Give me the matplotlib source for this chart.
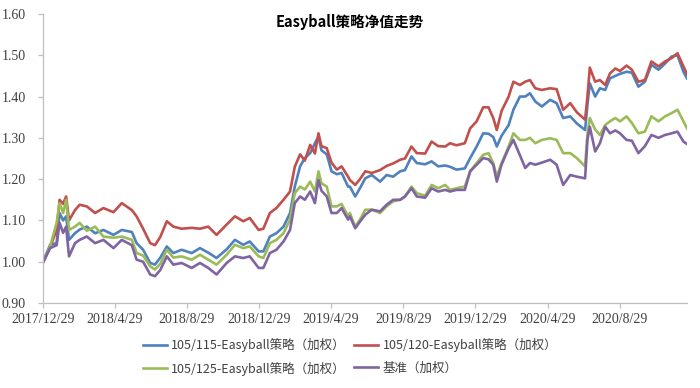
"""Easyball strategy NAV chart, redrawn from the reference picture
"""

#%% Imports
import matplotlib
matplotlib.use('Agg')
import matplotlib.pyplot as plt
import pandas as pd

#%% Data

dates = pd.to_datetime([
    '2017-12-29', '2018-01-10', '2018-01-21', '2018-01-26', '2018-02-01', '2018-02-06', '2018-02-11',
    '2018-02-21', '2018-03-01', '2018-03-13', '2018-03-27', '2018-04-10', '2018-04-27', '2018-05-11',
    '2018-05-28', '2018-06-05', '2018-06-16', '2018-06-28', '2018-07-06', '2018-07-15', '2018-07-26',
    '2018-08-06', '2018-08-20', '2018-09-06', '2018-09-20', '2018-10-04', '2018-10-18', '2018-11-04',
    '2018-11-18', '2018-12-02', '2018-12-13', '2018-12-28', '2019-01-05', '2019-01-16', '2019-01-27',
    '2019-02-08', '2019-02-19', '2019-02-27', '2019-03-08', '2019-03-16', '2019-03-25', '2019-04-02',
    '2019-04-08', '2019-04-13', '2019-04-22', '2019-04-30', '2019-05-09', '2019-05-17', '2019-05-28',
    '2019-05-31', '2019-06-09', '2019-06-17', '2019-06-26', '2019-07-07', '2019-07-21', '2019-08-01',
    '2019-08-12', '2019-08-24', '2019-09-01', '2019-09-12', '2019-09-21', '2019-10-05', '2019-10-16',
    '2019-10-27', '2019-11-08', '2019-11-16', '2019-11-27', '2019-12-11', '2019-12-20', '2019-12-31',
    '2020-01-11', '2020-01-20', '2020-01-28', '2020-02-03', '2020-02-11', '2020-02-23', '2020-03-02',
    '2020-03-13', '2020-03-22', '2020-03-30', '2020-04-08', '2020-04-19', '2020-05-03', '2020-05-14',
    '2020-05-25', '2020-06-06', '2020-06-17', '2020-07-01', '2020-07-05', '2020-07-09', '2020-07-18',
    '2020-07-26', '2020-08-04', '2020-08-12', '2020-08-21', '2020-08-29', '2020-09-09', '2020-09-18',
    '2020-09-29', '2020-10-10', '2020-10-21', '2020-11-02', '2020-11-13', '2020-11-24', '2020-12-04',
    '2020-12-14', '2020-12-20'])

nav_115 = [
    1.000, 1.041, 1.045, 1.118, 1.100, 1.110, 1.053, 1.069, 1.078, 1.085, 1.069, 1.077, 1.065, 1.077,
    1.072, 1.045, 1.029, 0.997, 0.993, 1.010, 1.037, 1.021, 1.029, 1.021, 1.033, 1.022, 1.009, 1.030,
    1.053, 1.041, 1.049, 1.025, 1.025, 1.061, 1.069, 1.085, 1.118, 1.182, 1.231, 1.251, 1.263, 1.287,
    1.303, 1.270, 1.260, 1.219, 1.212, 1.215, 1.182,
    1.182, 1.158, 1.178, 1.202, 1.210, 1.194, 1.210, 1.206, 1.219, 1.222, 1.255, 1.239, 1.236, 1.243,
    1.231, 1.233, 1.230, 1.223, 1.226, 1.251, 1.279, 1.311, 1.310, 1.302, 1.279, 1.305, 1.331, 1.368,
    1.400, 1.400, 1.408, 1.388, 1.376, 1.392, 1.384, 1.348, 1.352, 1.335, 1.319, 1.380, 1.432, 1.400,
    1.420, 1.416, 1.444, 1.450, 1.455, 1.460, 1.458, 1.424, 1.436, 1.477, 1.465, 1.480, 1.497, 1.500,
    1.460, 1.444]

nav_120 = [
    1.000, 1.035, 1.077, 1.150, 1.140, 1.158, 1.100, 1.125, 1.138, 1.134, 1.118, 1.130, 1.120, 1.142,
    1.125, 1.110, 1.080, 1.045, 1.040, 1.060, 1.098, 1.085, 1.080, 1.082, 1.080, 1.085, 1.065, 1.090,
    1.110, 1.098, 1.106, 1.077, 1.080, 1.118, 1.130, 1.150, 1.170, 1.230, 1.260, 1.245, 1.283, 1.262,
    1.311, 1.280, 1.275, 1.240, 1.223, 1.231, 1.206,
    1.198, 1.186, 1.200, 1.219, 1.215, 1.222, 1.232, 1.238, 1.247, 1.250, 1.279, 1.263, 1.262, 1.291,
    1.280, 1.279, 1.287, 1.282, 1.287, 1.323, 1.340, 1.374, 1.374, 1.348, 1.319, 1.365, 1.400, 1.436,
    1.428, 1.436, 1.440, 1.420, 1.416, 1.420, 1.418, 1.368, 1.384, 1.362, 1.344, 1.400, 1.470, 1.436,
    1.440, 1.428, 1.456, 1.468, 1.462, 1.475, 1.465, 1.436, 1.440, 1.485, 1.473, 1.485, 1.493, 1.505,
    1.473, 1.455]

nav_125 = [
    1.000, 1.037, 1.094, 1.142, 1.118, 1.150, 1.077, 1.085, 1.094, 1.075, 1.085, 1.061, 1.058, 1.061,
    1.053, 1.021, 1.015, 0.989, 0.981, 0.995, 1.029, 1.010, 1.013, 1.005, 1.017, 1.005, 0.993, 1.017,
    1.041, 1.033, 1.037, 1.013, 1.009, 1.045, 1.053, 1.069, 1.102, 1.166, 1.182, 1.175, 1.194, 1.170,
    1.219, 1.190, 1.182, 1.134, 1.134, 1.140, 1.110,
    1.118, 1.085, 1.102, 1.126, 1.126, 1.118, 1.134, 1.146, 1.150, 1.158, 1.182, 1.166, 1.160, 1.186,
    1.178, 1.186, 1.174, 1.178, 1.182, 1.219, 1.239, 1.259, 1.263, 1.239, 1.206, 1.239, 1.279, 1.311,
    1.295, 1.295, 1.300, 1.287, 1.295, 1.299, 1.295, 1.263, 1.263, 1.251, 1.231, 1.310, 1.348, 1.320,
    1.307, 1.331, 1.340, 1.348, 1.340, 1.352, 1.336, 1.311, 1.315, 1.352, 1.340, 1.352, 1.360, 1.368,
    1.340, 1.323]

benchmark = [
    0.997, 1.033, 1.040, 1.094, 1.070, 1.085, 1.013, 1.045, 1.053, 1.061, 1.045, 1.053, 1.033, 1.053,
    1.040, 1.005, 1.000, 0.969, 0.965, 0.980, 1.013, 0.993, 0.997, 0.985, 0.997, 0.985, 0.969, 0.997,
    1.013, 1.009, 1.013, 0.985, 0.985, 1.021, 1.029, 1.049, 1.077, 1.142, 1.158, 1.150, 1.170, 1.142,
    1.198, 1.172, 1.158, 1.118, 1.118, 1.130, 1.102,
    1.110, 1.081, 1.097, 1.114, 1.126, 1.122, 1.138, 1.150, 1.150, 1.158, 1.178, 1.158, 1.155, 1.178,
    1.170, 1.174, 1.170, 1.174, 1.174, 1.219, 1.235, 1.251, 1.248, 1.235, 1.194, 1.235, 1.275, 1.295,
    1.258, 1.227, 1.239, 1.235, 1.240, 1.247, 1.235, 1.186, 1.210, 1.206, 1.202, 1.295, 1.327, 1.267,
    1.287, 1.327, 1.311, 1.318, 1.311, 1.295, 1.293, 1.263, 1.280, 1.307, 1.300, 1.307, 1.311, 1.315,
    1.291, 1.285]

labels = ['105/115-Easyball策略（加权）', '105/120-Easyball策略（加权）',
          '105/125-Easyball策略（加权）', '基准（加权）']
colors = ['#4F81BD', '#C0504D', '#9BBB59', '#8064A2']

tick_dates = pd.to_datetime(['2017-12-29', '2018-04-29', '2018-08-29', '2018-12-29', '2019-04-29',
                             '2019-08-29', '2019-12-29', '2020-04-29', '2020-08-29'])
tick_labels = ['2017/12/29', '2018/4/29', '2018/8/29', '2018/12/29', '2019/4/29',
               '2019/8/29', '2019/12/29', '2020/4/29', '2020/8/29']
y_ticks = [0.90, 1.00, 1.10, 1.20, 1.30, 1.40, 1.50, 1.60]

#%% Plot

cjk = ['Noto Sans CJK SC', 'DejaVu Sans']
serif = ['Liberation Serif', 'DejaVu Serif']

fig = plt.figure(figsize=(7, 3.88), dpi=100)
ax = fig.add_axes([0.0614, 0.219, 0.92, 0.745])

series = [nav_115, nav_120, nav_125, benchmark]
lines = []
for values, c, lab in zip(series, colors, labels):
    l, = ax.plot(dates, values, color=c, lw=1.9, label=lab, solid_joinstyle='round')
    lines.append(l)

ax.set_xlim(dates[0], dates[-1])
ax.set_ylim(0.90, 1.60)
ax.set_yticks(y_ticks)
ax.set_yticklabels(['{:.2f}'.format(v) for v in y_ticks], fontfamily=serif, fontsize=10)
ax.set_xticks(tick_dates)
ax.set_xticklabels(tick_labels, fontfamily=serif, fontsize=10)

for s in ['top', 'right']:
    ax.spines[s].set_visible(False)
for s in ['left', 'bottom']:
    ax.spines[s].set_color('#BFBFBF')
    ax.spines[s].set_linewidth(0.9)
ax.tick_params(axis='both', color='#BFBFBF', length=3.5, width=0.9, labelcolor='#404040')
ax.tick_params(axis='y', pad=9)
ax.tick_params(axis='x', pad=4)

fig.text(0.5, 1 - 22 / 388, 'Easyball策略净值走势', ha='center', va='center',
         fontfamily=cjk, fontweight='bold', fontsize=10.5, color='#000000')

# legend order: row 1 = 115, 120 ; row 2 = 125, benchmark (matplotlib fills column-wise)
order = [0, 2, 1, 3]
fig.legend([lines[i] for i in order], [labels[i] for i in order], ncol=2, loc='center',
           bbox_to_anchor=(0.5, 1 - 357 / 388), frameon=False,
           prop={'family': cjk, 'size': 9}, handlelength=1.9, handletextpad=0.35,
           columnspacing=0.7, labelspacing=0.75, labelcolor='#404040')

plt.savefig('out.png', dpi=100)
